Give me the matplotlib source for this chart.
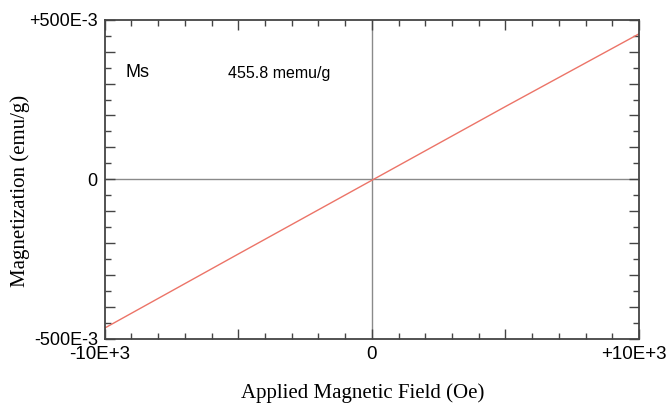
import matplotlib.pyplot as plt
from matplotlib.ticker import MultipleLocator
from matplotlib.transforms import ScaledTranslation

# Hysteresis sweep, field in Oe, magnetization in emu/g
field = [-10000, -5000, 0, 5000, 10000]
magnetization = [-0.466, -0.234, -0.003, 0.228, 0.4558]

x_ticks = [-10000, -5000, 0, 5000, 10000]
x_labels = ['-10E+3', '', '0', '', '+10E+3']
y_ticks = [-0.5, -0.4, -0.3, -0.2, -0.1, 0, 0.1, 0.2, 0.3, 0.4, 0.5]
y_labels = ['-500E-3', '', '', '', '', '0', '', '', '', '', '+500E-3']

ms_label = 'Ms'
ms_value = '455.8 memu/g'

fig = plt.figure(figsize=(6.67, 4.03), dpi=100)
ax = fig.add_axes([0.157, 0.159, 0.801, 0.792])

# zero lines
ax.axhline(0, color='#8a8a8a', lw=1.0, zorder=1)
ax.axvline(0, color='#8a8a8a', lw=1.0, zorder=1)

ax.plot(field, magnetization, color='#ec7468', lw=1.0, zorder=2)

ax.set_xlim(-10000, 10000)
ax.set_ylim(-0.5, 0.5)

ax.set_xticks(x_ticks, x_labels)
ax.set_yticks(y_ticks, y_labels)
ax.xaxis.set_minor_locator(MultipleLocator(1000))
ax.yaxis.set_minor_locator(MultipleLocator(0.05))

ax.tick_params(which='both', direction='in', top=True, right=True,
               color='#444444', width=1.0)
ax.tick_params(which='major', length=7, labelsize=13,
               labelfontfamily='Liberation Sans', labelcolor='black')
ax.tick_params(which='minor', length=4)
ax.tick_params(axis='x', which='major', pad=5, labelsize=13.5)
ax.tick_params(axis='y', which='major', pad=5)

# nudge the end labels of the x axis a little to the left
shift = ScaledTranslation(-4 / 72, 0, fig.dpi_scale_trans)
xticklabels = ax.get_xticklabels()
for lbl in (xticklabels[0], xticklabels[-1]):
    lbl.set_transform(lbl.get_transform() + shift)

for side in ax.spines.values():
    side.set_color('#444444')
    side.set_linewidth(1.3)

ax.set_xlabel('Applied Magnetic Field (Oe)', family='Liberation Serif',
              fontsize=15)
ax.set_ylabel('Magnetization (emu/g)', family='Liberation Serif',
              fontsize=15)
ax.xaxis.set_label_coords(0.482, -0.14)
ax.yaxis.set_label_coords(-0.14, 0.465)

ax.text(-9220, 0.335, ms_label, family='Liberation Sans', fontsize=13,
        va='center', ha='left')
ax.text(-5400, 0.333, ms_value, family='Liberation Sans', fontsize=11.5,
        va='center', ha='left')

fig.savefig('out.png', dpi=100)
